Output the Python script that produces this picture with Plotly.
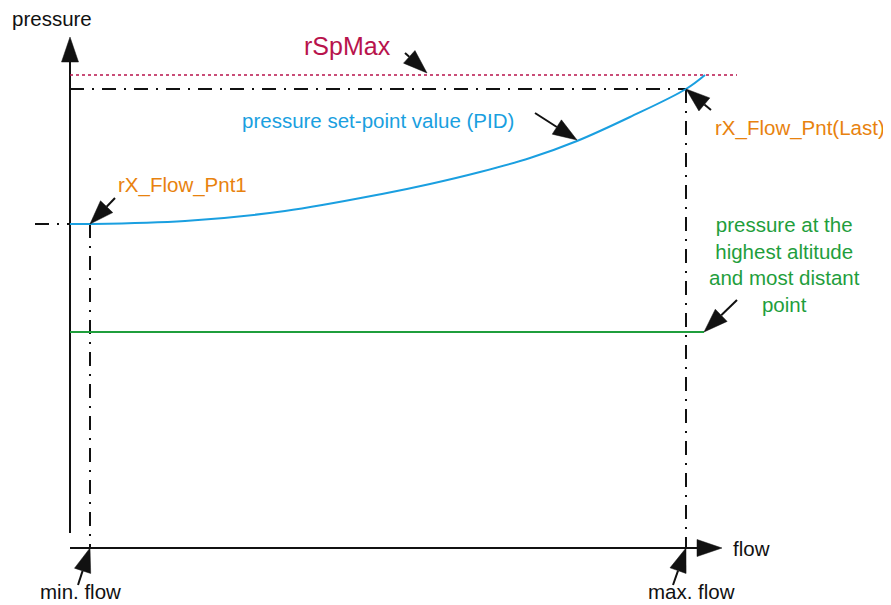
import math
import plotly.graph_objects as go

# ---- data (diagram units: x = flow, y = pressure) ----
flow_setpoint = [70, 90, 185, 285, 382, 430, 480, 530, 577, 630, 686, 705]
pressure_setpoint = [381, 381, 384, 394, 411, 421, 433, 447, 464, 488, 516, 530]

axis_x0 = 70          # flow at pressure axis
axis_y0 = 57          # pressure at flow axis
pressure_axis_bottom = 72
pressure_axis_tip = 568
flow_axis_tip = 722

flow_min = 90
flow_max = 686
p_pnt1 = 381
p_last = 516
p_spmax = 530
p_spmax_end = 737
p_green = 273
green_end = 704
pnt1_guide_start = 35

labels = ["pressure", "rSpMax", "pressure set-point value (PID)", "rX_Flow_Pnt(Last)",
          "rX_Flow_Pnt1", "pressure at the<br>highest altitude<br>and most distant<br>point",
          "flow", "min. flow", "max. flow"]
label_x = [52, 347, 378, 800, 182, 784, 751, 80, 691]
label_y = [587, 559, 485, 477, 420, 341, 57, 14, 14]

# arrows: (tail_x, tail_y, tip_x, tip_y)
arrow_tail_x = [405, 535, 711, 115, 737, 78, 673]
arrow_tail_y = [552, 492, 495, 407, 305, 20, 20]
arrow_tip_x = [427, 577, 686, 90, 704, 90, 686]
arrow_tip_y = [532, 465, 516, 381, 273, 57, 57]

BLACK = "#111111"
CRIMSON = "#b8134c"
BLUE = "#1a9fe0"
ORANGE = "#e8820e"
GREEN = "#1f9e3c"
FONT = "Liberation Sans, Arial, sans-serif"
DASHDOT = "14px,8px,2px,8px"

# page body has an 8px margin; offset the view so diagram units equal window pixels
PAGE_OFFSET = 8

fig = go.Figure()

def line(xs, ys, color, width=2, dash="solid", shape="linear"):
    fig.add_trace(go.Scatter(x=xs, y=ys, mode="lines", hoverinfo="skip",
                             line=dict(color=color, width=width, dash=dash, shape=shape),
                             showlegend=False))

def head(tx, ty, sx, sy, L=24, W=8.5):
    dx, dy = tx - sx, ty - sy
    n = math.hypot(dx, dy)
    ux, uy = dx / n, dy / n
    bx, by = tx - ux * L, ty - uy * L
    px, py = -uy * W, ux * W
    path = f"M{tx},{ty} L{bx+px},{by+py} L{bx-px},{by-py} Z"
    fig.add_shape(type="path", path=path, xref="x", yref="y",
                  fillcolor=BLACK, line=dict(color=BLACK, width=0.5))
    return bx, by

# axes
line([axis_x0, axis_x0], [pressure_axis_bottom, pressure_axis_tip - 20], BLACK, 2)
head(axis_x0, pressure_axis_tip, axis_x0, pressure_axis_bottom, L=25)
line([axis_x0, flow_axis_tip - 20], [axis_y0, axis_y0], BLACK, 2)
head(flow_axis_tip, axis_y0, axis_x0, axis_y0, L=25)

# guides
line([axis_x0, p_spmax_end], [p_spmax, p_spmax], CRIMSON, 1.5, "3px,3px")
line([axis_x0, flow_max], [p_last, p_last], BLACK, 2, DASHDOT)
line([flow_max, flow_max], [p_last, axis_y0], BLACK, 2, DASHDOT)
line([pnt1_guide_start, flow_min], [p_pnt1, p_pnt1], BLACK, 2, DASHDOT)
line([flow_min, flow_min], [p_pnt1, axis_y0], BLACK, 2, DASHDOT)

# curves
line([axis_x0, green_end], [p_green, p_green], GREEN, 2)
line(flow_setpoint, pressure_setpoint, BLUE, 2, shape="spline")

# arrows
for sx, sy, tx, ty in zip(arrow_tail_x, arrow_tail_y, arrow_tip_x, arrow_tip_y):
    bx, by = head(tx, ty, sx, sy)
    line([sx, bx], [sy, by], BLACK, 2)

colors = [BLACK, CRIMSON, BLUE, ORANGE, ORANGE, GREEN, BLACK, BLACK, BLACK]
sizes = [20.5, 25, 20.5, 20.5, 20.5, 20.5, 20.5, 20.5, 20.5]
for t, x, y, c, s in zip(labels, label_x, label_y, colors, sizes):
    fig.add_annotation(x=x, y=y, text=t, showarrow=False, xref="x", yref="y",
                       xanchor="center", yanchor="middle", align="center",
                       font=dict(family=FONT, size=s, color=c))

fig.update_layout(width=891, height=605, margin=dict(l=0, r=0, t=0, b=0),
                  paper_bgcolor="white", plot_bgcolor="white",
                  xaxis=dict(range=[PAGE_OFFSET, 891 + PAGE_OFFSET], visible=False, fixedrange=True),
                  yaxis=dict(range=[-PAGE_OFFSET, 605 - PAGE_OFFSET], visible=False, fixedrange=True))

fig.write_html("out.html")
